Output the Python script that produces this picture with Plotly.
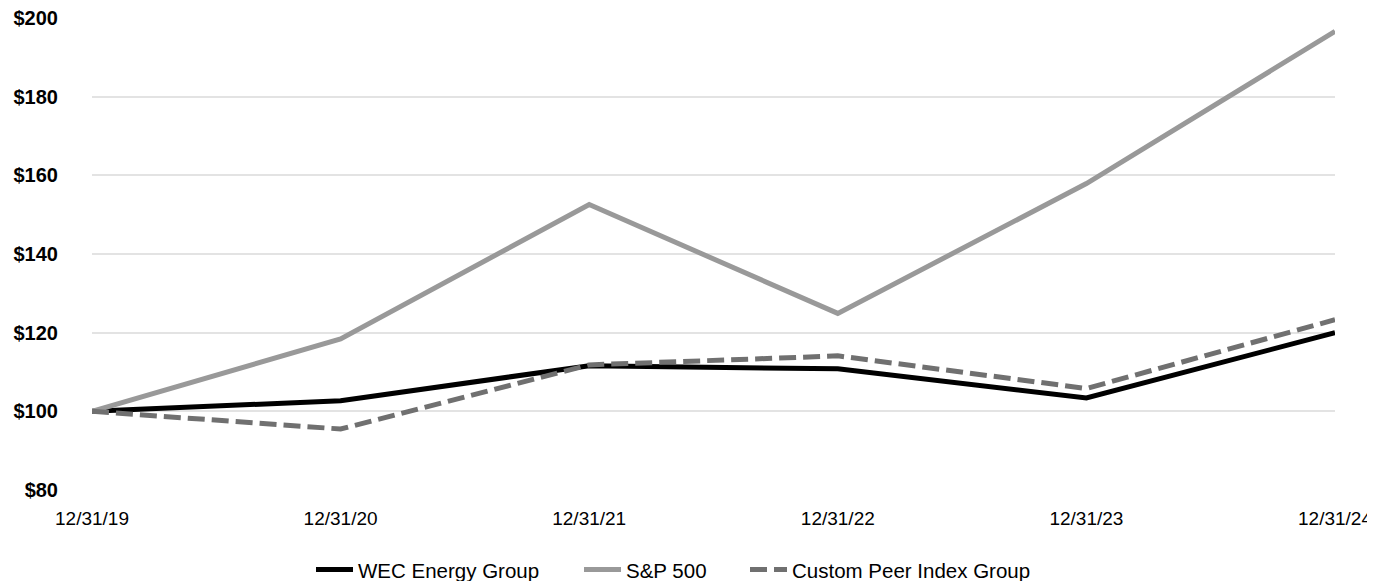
import plotly.graph_objects as go

dates = ["12/31/19", "12/31/20", "12/31/21", "12/31/22", "12/31/23", "12/31/24"]
wec = [100, 102.7, 111.6, 110.8, 103.4, 120.0]
sp500 = [100, 118.4, 152.6, 124.9, 157.9, 196.6]
peer = [100, 95.5, 111.8, 114.1, 105.8, 123.3]
y_ticks = [80, 100, 120, 140, 160, 180, 200]

fig = go.Figure()
fig.add_trace(go.Scatter(x=dates, y=wec, mode="lines", name="WEC Energy Group",
                         line=dict(color="#000000", width=5), legend="legend"))
fig.add_trace(go.Scatter(x=dates, y=sp500, mode="lines", name="S&P 500",
                         line=dict(color="#999999", width=5), legend="legend2"))
fig.add_trace(go.Scatter(x=dates, y=peer, mode="lines", name="Custom Peer Index Group",
                         line=dict(color="#707070", width=5, dash="17px,7px"),
                         legend="legend3"))

plot_left, plot_w = 92, 1243


def leg(px):
    return dict(orientation="h", x=(px - plot_left) / plot_w, xanchor="left",
                y=-0.169, yanchor="middle", font=dict(size=20.5), itemwidth=37,
                bgcolor="rgba(0,0,0,0)")


# page body has an 8px default margin, so the figure is sized/offset accordingly
fig.update_layout(
    width=1367, height=573,
    paper_bgcolor="white", plot_bgcolor="white",
    margin=dict(l=84, r=40, t=10, b=91, autoexpand=False),
    font=dict(family="Liberation Sans, Arial, sans-serif", size=20, color="#000000"),
    showlegend=True,
    legend=leg(311), legend2=leg(579), legend3=leg(745),
    xaxis=dict(range=[0, 5], showgrid=False, showline=False, zeroline=False,
               ticks="", tickfont=dict(size=19), type="category", automargin=False,
               ticklabelstandoff=15, ticklabeloverflow="allow"),
    yaxis=dict(range=[80, 200], tickvals=y_ticks,
               ticktext=[f"<b>${v}</b>" for v in y_ticks],
               showgrid=True, gridcolor="#e3e3e3", gridwidth=2,
               zeroline=False, showline=False, ticks="", ticklabelstandoff=33,
               tickfont=dict(size=20), automargin=False, ticklabeloverflow="allow"),
)

fig.write_html("out.html")
